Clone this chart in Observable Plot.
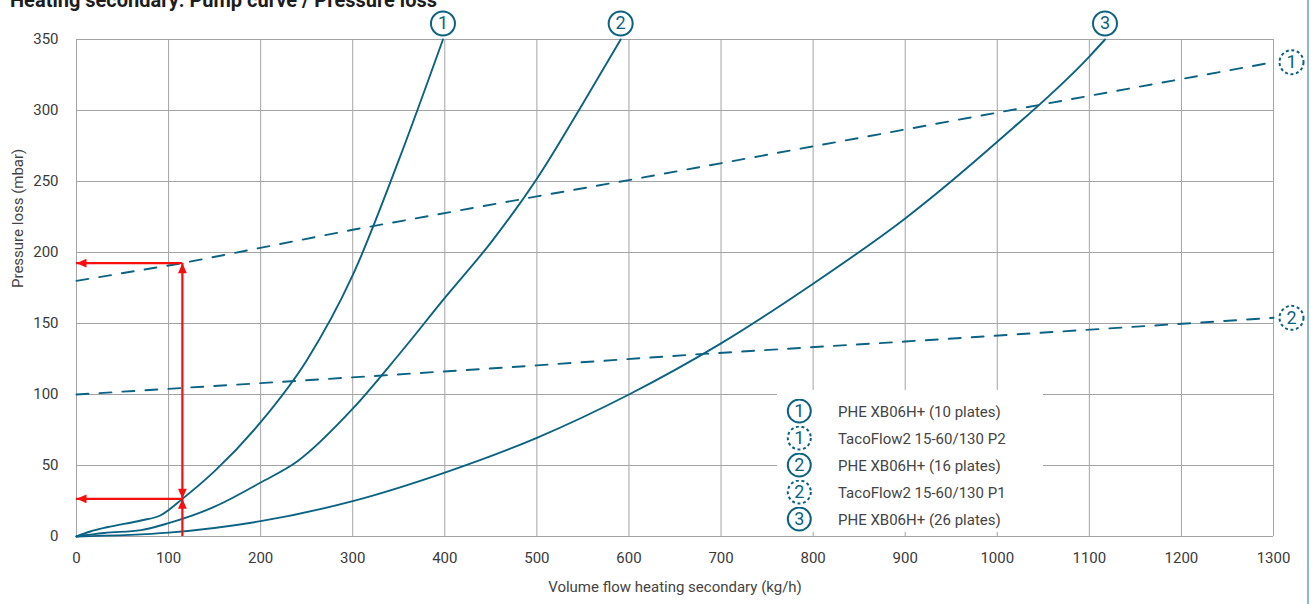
<!DOCTYPE html>
<html><head><meta charset="utf-8">
<script src="https://cdn.jsdelivr.net/npm/d3@7"></script>
<script src="https://cdn.jsdelivr.net/npm/@observablehq/plot@0.6"></script>
<style>
body{margin:0;background:#fff;font-family:Roboto, sans-serif;}
#wrap{position:relative;width:1316px;height:604px;overflow:hidden;background:#fff;}
#title{position:absolute;left:10px;top:-10px;font-size:20px;line-height:20px;font-weight:700;color:#1d1d1d;white-space:nowrap;}
#chart{position:absolute;left:0;top:0;}
#legend{position:absolute;left:777px;top:390px;width:266px;height:142px;background:#fff;}
.row{position:absolute;left:0;height:26px;width:266px;}
.row svg{position:absolute;left:9px;top:0;}
.row span{position:absolute;left:61px;top:0;line-height:26px;font-size:15px;color:#444;white-space:nowrap;}
#edge{position:absolute;left:1307px;top:0;width:2px;height:604px;background:#8db7cb;}
</style></head>
<body><div id="wrap"><div id="title"></div><div id="chart"></div><div id="legend"></div><div id="edge"></div></div>
<script>
// ---- texts ----
const titleText = "Heating secondary: Pump curve / Pressure loss";
const xLabel = "Volume flow heating secondary (kg/h)";
const yLabel = "Pressure loss (mbar)";
const xTicks = [0,100,200,300,400,500,600,700,800,900,1000,1100,1200,1300];
const yTicks = [0,50,100,150,200,250,300,350];

// ---- series ----
const phe10Flow = [0, 15, 33, 70, 91, 115, 150, 200, 250, 300, 350, 398];
const phe10Loss = [0, 3.5, 6.5, 11.3, 14.8, 26.5, 46, 80.5, 124, 184, 265, 350];
const phe16Flow = [0, 30, 70, 100, 150, 200, 240, 300, 350, 400, 450, 500, 550, 591];
const phe16Loss = [0, 2.5, 4.5, 9.4, 21, 38, 53, 90, 128, 168, 207, 252, 305, 350];
const phe26Flow = [0, 100, 200, 300, 400, 500, 600, 700, 800, 900, 1000, 1100, 1117];
const phe26Loss = [0, 2.7, 10.8, 24.9, 45, 69.5, 100, 136, 178, 224, 278, 338, 350];
const pumpP2Flow = [0, 115, 300, 500, 600, 1000, 1300];
const pumpP2Loss = [180, 192.5, 216, 239.5, 251, 298.5, 334];
const pumpP1Flow = [0, 200, 332, 500, 681, 900, 1300];
const pumpP1Loss = [100, 108, 113.4, 120.5, 128.6, 137.3, 154];

// operating point example
const opFlow = 115;
const opPumpLoss = 192.5;
const opPheLoss = 26.5;

// legend
const legendNums = ["1", "1", "2", "2", "3"];
const legendDashed = [false, true, false, true, false];
const legendNames = ["PHE XB06H+ (10 plates)", "TacoFlow2 15-60/130 P2", "PHE XB06H+ (16 plates)", "TacoFlow2 15-60/130 P1", "PHE XB06H+ (26 plates)"];

const teal = "#0b6283";
const red = "#f50f0f";
const gridColor = "#a4a4a4";

const toRows = (xs, ys) => xs.map((x, i) => ({flow: x, loss: ys[i]}));
const phe10 = toRows(phe10Flow, phe10Loss);
const phe16 = toRows(phe16Flow, phe16Loss);
const phe26 = toRows(phe26Flow, phe26Loss);
const p2 = toRows(pumpP2Flow, pumpP2Loss);
const p1 = toRows(pumpP1Flow, pumpP1Loss);

const last = (a) => a[a.length - 1];
const topLabels = [
  {...last(phe10), n: "1"}, {...last(phe16), n: "2"}, {...last(phe26), n: "3"}
];
const sideLabels = [{...last(p2), n: "1"}, {...last(p1), n: "2"}];

const arrowHead = {draw(ctx) { ctx.moveTo(0, 0); ctx.lineTo(4.4, 10); ctx.lineTo(-4.4, 10); ctx.closePath(); }};

const lineOpts = {x: "flow", y: "loss", stroke: teal, strokeWidth: 1.9, curve: "monotone-x"};
const dashOpts = {...lineOpts, strokeDasharray: "12,11", curve: "linear"};

const chart = Plot.plot({
  width: 1316, height: 604,
  marginTop: 39, marginBottom: 68, marginLeft: 76, marginRight: 43,
  style: {fontFamily: "Roboto", fontSize: "15px", color: "#3a3a3a", background: "transparent"},
  x: {domain: [0, 1300]},
  y: {domain: [0, 350]},
  marks: [
    Plot.gridX(xTicks, {stroke: gridColor, strokeOpacity: 1, strokeWidth: 1}),
    Plot.gridY(yTicks, {stroke: gridColor, strokeOpacity: 1, strokeWidth: 1}),
    Plot.axisX(xTicks, {tickSize: 0, tickPadding: 16, label: null, tickFormat: d => String(d), fontSize: 15}),
    Plot.axisY(yTicks, {tickSize: 0, tickPadding: 18, label: null, tickFormat: d => String(d), fontSize: 15}),
    Plot.text([xLabel], {text: d => d, frameAnchor: "bottom", dy: 51, lineAnchor: "middle", fontSize: 15, fill: "#444"}),
    Plot.text([yLabel], {text: d => d, frameAnchor: "left", dx: -58, rotate: -90, lineAnchor: "middle", fontSize: 15, fill: "#444"}),
    Plot.line(p2, dashOpts),
    Plot.line(p1, dashOpts),
    Plot.line(phe10, lineOpts),
    Plot.line(phe16, lineOpts),
    Plot.line(phe26, lineOpts),
    // red construction lines
    Plot.ruleX([{x: opFlow, y1: 0, y2: opPumpLoss}], {x: "x", y1: "y1", y2: "y2", stroke: red, strokeWidth: 2.2}),
    Plot.ruleY([{y: opPumpLoss, x1: 0, x2: opFlow}, {y: opPheLoss, x1: 0, x2: opFlow}], {y: "y", x1: "x1", x2: "x2", stroke: red, strokeWidth: 2.2}),
    Plot.dot([{x: 0, y: opPumpLoss}, {x: 0, y: opPheLoss}], {x: "x", y: "y", symbol: arrowHead, rotate: -90, fill: red, stroke: null, r: 5}),
    Plot.dot([{x: opFlow, y: opPumpLoss}, {x: opFlow, y: opPheLoss}], {x: "x", y: "y", symbol: arrowHead, rotate: 0, fill: red, stroke: null, r: 5}),
    Plot.dot([{x: opFlow, y: opPheLoss}], {x: "x", y: "y", symbol: arrowHead, rotate: 180, fill: red, stroke: null, r: 5}),
    // circled labels
    Plot.dot(topLabels, {x: "flow", y: "loss", dy: -16, r: 12, fill: "white", stroke: teal, strokeWidth: 2}),
    Plot.text(topLabels, {x: "flow", y: "loss", dy: -16, text: "n", fontSize: 18, fill: teal, lineAnchor: "middle"}),
    Plot.dot(sideLabels, {x: "flow", y: "loss", dx: 18, r: 12, fill: "white", stroke: teal, strokeWidth: 2, strokeDasharray: "3,2.6"}),
    Plot.text(sideLabels, {x: "flow", y: "loss", dx: 18, text: "n", fontSize: 18, fill: teal, lineAnchor: "middle"})
  ]
});
document.getElementById("chart").appendChild(chart);
document.getElementById("title").textContent = titleText;

// legend
const legend = d3.select("#legend");
legendNames.forEach((name, i) => {
  const row = legend.append("div").attr("class", "row").style("top", (8.5 + 27 * i) + "px");
  const svg = row.append("svg").attr("width", 28).attr("height", 26);
  svg.append("circle").attr("cx", 13.3).attr("cy", 12).attr("r", 11.5)
    .attr("fill", "white").attr("stroke", teal).attr("stroke-width", 2)
    .attr("stroke-dasharray", legendDashed[i] ? "3,2.6" : null);
  svg.append("text").attr("x", 13.3).attr("y", 12).attr("dy", "0.36em").attr("text-anchor", "middle")
    .attr("font-family", "Roboto").attr("font-size", 18).attr("fill", teal).text(legendNums[i]);
  row.append("span").text(name);
});
</script>
</body></html>
